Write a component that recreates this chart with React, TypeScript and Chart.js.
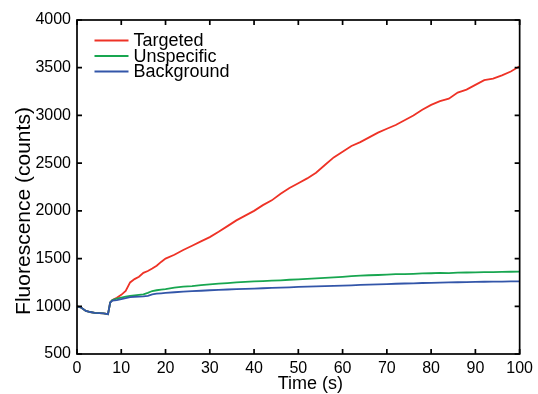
import React, { useEffect, useRef } from 'react';
import { Chart, registerables } from 'chart.js';

Chart.register(...registerables);

const TIME = [0, 1, 2, 3, 4, 5, 6, 7, 7.5, 8, 9, 10, 11, 12, 13, 14, 15, 16, 17, 18, 19, 20,
  22, 24, 26, 28, 30, 32, 34, 36, 38, 40, 42, 44, 46, 48, 50, 52, 54, 56, 58, 60,
  62, 64, 66, 68, 70, 72, 74, 76, 78, 80, 82, 84, 86, 88, 90, 92, 94, 96, 98, 100];

const TARGETED = [1000, 985, 952, 940, 932, 928, 925, 918, 1040, 1065, 1090, 1120, 1160, 1250, 1285, 1310, 1350, 1370, 1395, 1425, 1465, 1500,
  1540, 1590, 1635, 1680, 1725, 1780, 1840, 1900, 1950, 2000, 2060, 2110, 2180, 2240, 2290, 2340, 2400, 2480, 2560, 2620,
  2680, 2720, 2770, 2820, 2860, 2900, 2950, 3000, 3060, 3110, 3150, 3175, 3240, 3270, 3320, 3370, 3385, 3420, 3460, 3515];

const UNSPECIFIC = [1000, 985, 952, 940, 932, 928, 925, 918, 1040, 1065, 1080, 1090, 1100, 1110, 1115, 1120, 1125, 1140, 1160, 1168, 1175, 1180,
  1195, 1205, 1212, 1222, 1230, 1237, 1243, 1250, 1256, 1260, 1264, 1268, 1272, 1278, 1283, 1288, 1292, 1298, 1302, 1308,
  1315, 1322, 1325, 1328, 1332, 1336, 1338, 1340, 1344, 1346, 1350, 1348, 1352, 1354, 1355, 1357, 1358, 1360, 1362, 1364];

const BACKGROUND = [1000, 985, 952, 940, 932, 928, 925, 918, 1040, 1060, 1065, 1075, 1085, 1095, 1100, 1102, 1104, 1110, 1125, 1132, 1136, 1140,
  1147, 1153, 1158, 1163, 1168, 1172, 1176, 1180, 1183, 1186, 1189, 1193, 1196, 1199, 1203, 1206, 1208, 1211, 1214, 1217,
  1220, 1224, 1227, 1230, 1233, 1236, 1239, 1241, 1244, 1246, 1248, 1250, 1252, 1254, 1256, 1257, 1258, 1259, 1260, 1262];

const SERIES_LABELS = ['Targeted', 'Unspecific', 'Background'];
const SERIES_COLORS = ['#ee3226', '#18a650', '#3356a9'];
const X_TITLE = 'Time (s)';
const Y_TITLE = 'Fluorescence (counts)';

const FONT = '"Liberation Sans", Arial, Helvetica, sans-serif';

const framePlugin = {
  id: 'framePlugin',
  afterDatasetsDraw(chart: any) {
    const { ctx, chartArea: a, scales } = chart;
    ctx.save();
    ctx.strokeStyle = '#000';
    ctx.lineWidth = 1.7;
    ctx.strokeRect(a.left, a.top, a.right - a.left, a.bottom - a.top);
    const L = 5;
    ctx.beginPath();
    scales.x.ticks.forEach((t: any) => {
      const px = scales.x.getPixelForValue(t.value);
      ctx.moveTo(px, a.bottom); ctx.lineTo(px, a.bottom - L);
      ctx.moveTo(px, a.top); ctx.lineTo(px, a.top + L);
    });
    scales.y.ticks.forEach((t: any) => {
      const py = scales.y.getPixelForValue(t.value);
      ctx.moveTo(a.left, py); ctx.lineTo(a.left + L, py);
      ctx.moveTo(a.right, py); ctx.lineTo(a.right - L, py);
    });
    ctx.stroke();

    // legend
    ctx.font = `18px ${FONT}`;
    ctx.fillStyle = '#000';
    ctx.textAlign = 'left';
    ctx.textBaseline = 'alphabetic';
    const lx0 = a.left + 17.5;
    const lx1 = lx0 + 34;
    chart.data.datasets.forEach((ds: any, i: number) => {
      const ly = a.top + 20.5 + i * 15.5;
      ctx.strokeStyle = ds.borderColor;
      ctx.lineWidth = 2.2;
      ctx.beginPath();
      ctx.moveTo(lx0, ly);
      ctx.lineTo(lx1, ly);
      ctx.stroke();
      ctx.fillText(ds.label, lx1 + 5, ly + 5.5);
    });

    // axis titles
    ctx.fillStyle = '#000';
    ctx.font = `18px ${FONT}`;
    ctx.textAlign = 'center';
    ctx.textBaseline = 'alphabetic';
    ctx.fillText(X_TITLE, (a.left + a.right) / 2 + 12, 388.5);

    ctx.save();
    ctx.font = `21px ${FONT}`;
    ctx.translate(30, (a.top + a.bottom) / 2 + 24);
    ctx.rotate(-Math.PI / 2);
    ctx.textAlign = 'center';
    ctx.textBaseline = 'alphabetic';
    ctx.fillText(Y_TITLE, 0, 0);
    ctx.restore();

    ctx.restore();
  },
};

export default function App() {
  const canvasRef = useRef<HTMLCanvasElement | null>(null);

  useEffect(() => {
    const canvas = canvasRef.current;
    if (!canvas) return;
    const series = [TARGETED, UNSPECIFIC, BACKGROUND];
    const chart = new Chart(canvas, {
      type: 'line',
      data: {
        datasets: series.map((vals, i) => ({
          label: SERIES_LABELS[i],
          data: TIME.map((t, j) => ({ x: t, y: vals[j] })),
          borderColor: SERIES_COLORS[i],
          backgroundColor: SERIES_COLORS[i],
          borderWidth: 1.8,
          pointRadius: 0,
          tension: 0,
          fill: false,
          order: 2 - i,
        })),
      },
      options: {
        responsive: false,
        animation: false,
        devicePixelRatio: 1,
        layout: { padding: { left: 0, right: 18, top: 20, bottom: 0 } },
        plugins: {
          legend: { display: false },
          tooltip: { enabled: false },
          title: { display: false },
        },
        scales: {
          x: {
            type: 'linear',
            min: 0,
            max: 100,
            grid: { display: false, drawTicks: false },
            border: { display: false },
            ticks: {
              stepSize: 10,
              padding: 5,
              color: '#000',
              font: { family: FONT, size: 16 },
              maxRotation: 0,
              callback: (v: any) => String(v),
            },
            afterFit: (s: any) => { s.height = 40; },
          },
          y: {
            type: 'linear',
            min: 500,
            max: 4000,
            grid: { display: false, drawTicks: false },
            border: { display: false },
            ticks: {
              stepSize: 500,
              padding: 6,
              color: '#000',
              font: { family: FONT, size: 16 },
              callback: (v: any) => String(v),
            },
            afterFit: (s: any) => { s.width = 77; },
          },
        },
      },
      plugins: [framePlugin],
    });
    return () => chart.destroy();
  }, []);

  return (
    <div style={{ position: 'fixed', left: 0, top: 0, width: 538, height: 394, background: '#fff' }}>
      <canvas ref={canvasRef} width={538} height={394} style={{ display: 'block' }} />
    </div>
  );
}
